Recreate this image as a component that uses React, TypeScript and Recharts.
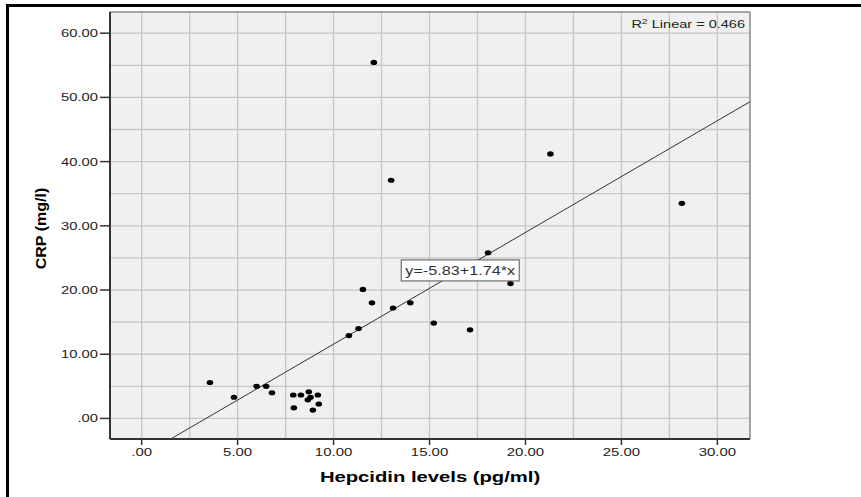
import React from 'react';
import {
  ScatterChart,
  Scatter,
  XAxis,
  YAxis,
  CartesianGrid,
  ReferenceLine,
  ReferenceDot
} from 'recharts';

// Hepcidin (x) and CRP (y) per patient
const hepcidin = [
  12.1, 13.0, 21.3, 28.15, 11.53, 12.0, 13.1, 14.0, 11.3, 10.8,
  3.56, 4.81, 5.99, 6.49, 6.79, 7.9, 8.3, 8.71, 8.8, 8.66,
  9.18, 9.23, 7.93, 8.92, 18.05, 19.22, 15.22, 17.11
];
const crp = [
  55.45, 37.1, 41.2, 33.5, 20.1, 18.0, 17.2, 18.0, 14.0, 12.9,
  5.6, 3.3, 5.0, 5.0, 4.0, 3.65, 3.65, 4.15, 3.3, 2.9,
  3.65, 2.25, 1.65, 1.3, 25.8, 21.0, 14.85, 13.8
];

const xTicks = [0, 5, 10, 15, 20, 25, 30];
const yTicks = [0, 10, 20, 30, 40, 50, 60];
const xGrid = [0, 2.5, 5, 7.5, 10, 12.5, 15, 17.5, 20, 22.5, 25, 27.5, 30];
const yGrid = [0, 5, 10, 15, 20, 25, 30, 35, 40, 45, 50, 55, 60];

const X_MIN = -1.65;
const X_MAX = 31.7;
const Y_MIN = -3.2;
const Y_MAX = 63.3;

// fit line as printed on the chart
const INTERCEPT = -5.83;
const SLOPE = 1.74;
const R2 = 0.466;
const EQ_LABEL_X = 16.6;

const FONT = '"Liberation Sans", Arial, sans-serif';

const points = hepcidin.map((h, i) => ({ x: h, y: crp[i] }));
const fit = (x: number) => INTERCEPT + SLOPE * x;

const fmt = (v: number) => (v === 0 ? '.00' : v.toFixed(2));

const XTick = (props: any) => {
  const { x, y, payload } = props;
  return (
    <text
      transform={`translate(${x},${y + 10}) scale(1.36,1)`}
      textAnchor="middle"
      fontSize={11}
      fontFamily={FONT}
      fill="#222"
    >
      {fmt(payload.value)}
    </text>
  );
};

const YTick = (props: any) => {
  const { x, y, payload } = props;
  return (
    <text
      transform={`translate(${x},${y + 4}) scale(1.34,1)`}
      textAnchor="end"
      fontSize={11}
      fontFamily={FONT}
      fill="#222"
    >
      {fmt(payload.value)}
    </text>
  );
};

const Dot = (props: any) => (
  <ellipse cx={props.cx} cy={props.cy} rx={3.3} ry={2.6} fill="#000" />
);

const EquationBox = (props: any) => {
  const { cx, cy } = props;
  return (
    <g>
      <rect x={cx - 59} y={cy - 10.5} width={118} height={21} fill="#fff" stroke="#555" strokeWidth={1} />
      <text
        transform={`translate(${cx},${cy + 4.5}) scale(1.35,1)`}
        textAnchor="middle"
        fontSize={12}
        fontFamily={FONT}
        fill="#333"
      >
        {`y=${INTERCEPT.toFixed(2)}+${SLOPE.toFixed(2)}*x`}
      </text>
    </g>
  );
};

const R2Label = (props: any) => {
  const { cx, cy } = props;
  return (
    <text
      transform={`translate(${cx - 5},${cy + 16}) scale(1.32,1)`}
      textAnchor="end"
      fontSize={11}
      fontFamily={FONT}
      fill="#222"
    >
      R<tspan fontSize={8} dy={-4}>2</tspan>
      <tspan dy={4}>{` Linear = ${R2.toFixed(3)}`}</tspan>
    </text>
  );
};

const XTitle = (props: any) => {
  const { viewBox } = props;
  const cx = viewBox.x + viewBox.width / 2;
  return (
    <text
      transform={`translate(${cx},${viewBox.y + 43}) scale(1.35,1)`}
      textAnchor="middle"
      fontSize={15}
      fontWeight="bold"
      fontFamily={FONT}
      fill="#000"
    >
      Hepcidin levels (pg/ml)
    </text>
  );
};

const YTitle = (props: any) => {
  const { viewBox } = props;
  const cy = viewBox.y + viewBox.height / 2 + 3;
  return (
    <text
      transform={`translate(${viewBox.x + 46},${cy}) rotate(-90) scale(1.07,1)`}
      textAnchor="middle"
      fontSize={15}
      fontWeight="bold"
      fontFamily={FONT}
      fill="#000"
    >
      CRP (mg/l)
    </text>
  );
};

export default function App() {
  return (
    <div
      style={{
        position: 'absolute',
        left: 0,
        top: 0,
        width: 861,
        height: 497,
        overflow: 'hidden',
        background: '#fff'
      }}
    >
      <div
        style={{
          position: 'absolute',
          left: 6,
          top: 4,
          width: 1000,
          height: 1000,
          borderTop: '3px solid #000',
          borderLeft: '3px solid #000'
        }}
      />
      <div style={{ position: 'absolute', left: 0, top: 0 }}>
        <ScatterChart
          width={861}
          height={497}
          margin={{ top: 12, right: 111, bottom: 0, left: 0 }}
        >
          <CartesianGrid
            fill="#f0f0f0"
            stroke="#c6c6c6"
            strokeWidth={1.3}
            verticalValues={xGrid}
            horizontalValues={yGrid}
          />
          <XAxis
            type="number"
            dataKey="x"
            domain={[X_MIN, X_MAX]}
            ticks={xTicks}
            allowDataOverflow
            height={58}
            tickSize={6}
            tickMargin={1}
            tick={<XTick />}
            tickLine={{ stroke: '#333', strokeWidth: 1.5 }}
            axisLine={{ stroke: '#333', strokeWidth: 2 }}
            label={<XTitle />}
          />
          <YAxis
            type="number"
            dataKey="y"
            domain={[Y_MIN, Y_MAX]}
            ticks={yTicks}
            allowDataOverflow
            width={110}
            tickSize={10}
            tickMargin={2}
            tick={<YTick />}
            tickLine={{ stroke: '#333', strokeWidth: 1.5 }}
            axisLine={{ stroke: '#333', strokeWidth: 2 }}
            label={<YTitle />}
          />
          <ReferenceLine y={Y_MAX} stroke="#8a8a8a" strokeWidth={1.5} />
          <ReferenceLine x={X_MAX} stroke="#8a8a8a" strokeWidth={1.5} />
          <ReferenceLine
            segment={[
              { x: X_MIN, y: fit(X_MIN) },
              { x: X_MAX, y: fit(X_MAX) }
            ]}
            ifOverflow="hidden"
            stroke="#333"
            strokeWidth={1}
          />
          <Scatter data={points} shape={<Dot />} isAnimationActive={false} />
          <ReferenceDot x={EQ_LABEL_X} y={fit(EQ_LABEL_X)} shape={<EquationBox />} />
          <ReferenceDot x={X_MAX} y={Y_MAX} ifOverflow="visible" shape={<R2Label />} />
        </ScatterChart>
      </div>
    </div>
  );
}
